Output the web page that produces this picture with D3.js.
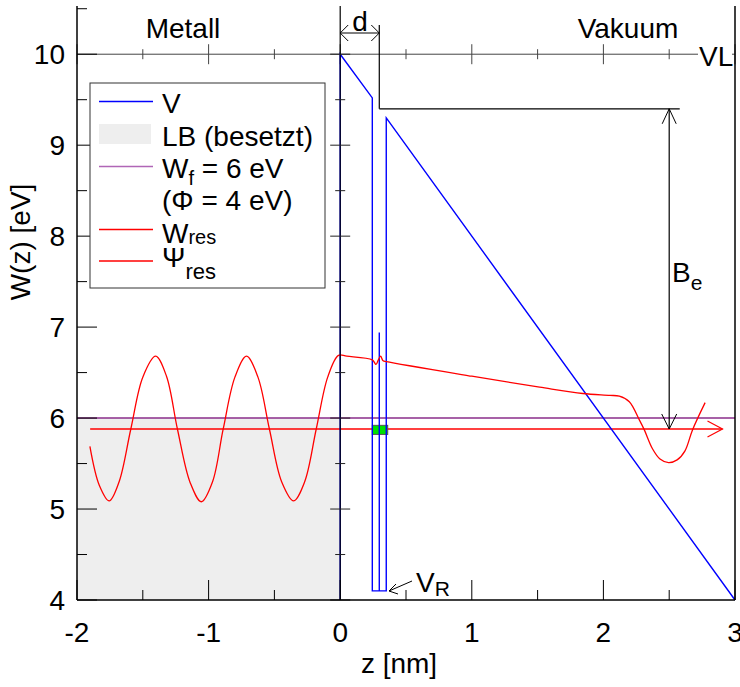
<!DOCTYPE html>
<html><head><meta charset="utf-8">
<script src="https://cdn.jsdelivr.net/npm/d3@7"></script>
<style>
html,body{margin:0;padding:0;background:#fff;}
svg{display:block;font-family:"Liberation Sans",Arial,sans-serif;}
</style></head>
<body>
<svg id="c" width="740" height="687"></svg>
<script>
// ---- data ----
const xTicks = [-2, -1, 0, 1, 2, 3];
const yTicks = [4, 5, 6, 7, 8, 9, 10];
// potential V(z)
const potZ = [0, 0, 0.244, 0.244, 0.350, 0.350, 3.0];
const potW = [4.0, 10.0, 9.52, 4.1, 4.1, 9.30, 4.0];
// middle line of well
const midZ = [0.297, 0.297];
const midW = [6.94, 4.1];
// occupied band (LB)
const lbZ = [-2, 0];
const lbW = [4, 6];
// Fermi level
const wf = 6.0;
// resonance level
const wres = 5.88;
const wresZ = [-1.90, 2.905];
// resonance wavefunction (offset)
const psiZ = [-1.902, -1.83, -1.755, -1.68, -1.591, -1.50, -1.402, -1.32, -1.237, -1.14, -1.055, -0.97, -0.889, -0.80, -0.712, -0.625, -0.538, -0.445, -0.354, -0.27, -0.182, -0.095, -0.013, 0.05, 0.244, 0.272, 0.29, 0.307, 0.326, 0.352, 1.0, 1.515, 1.843, 2.05, 2.121, 2.197, 2.273, 2.311, 2.374, 2.43, 2.495, 2.56, 2.62, 2.677, 2.773];
const psiW = [5.69, 5.26, 5.09, 5.30, 5.88, 6.45, 6.68, 6.46, 5.88, 5.29, 5.08, 5.30, 5.88, 6.45, 6.68, 6.45, 5.88, 5.30, 5.09, 5.30, 5.88, 6.45, 6.69, 6.68, 6.64, 6.59, 6.64, 6.68, 6.63, 6.62, 6.46, 6.34, 6.27, 6.25, 6.24, 6.18, 5.98, 5.87, 5.66, 5.55, 5.51, 5.54, 5.64, 5.87, 6.17];
// green resonance box
const boxZ = [0.244, 0.361];
const boxW = [5.82, 5.92];
// annotations
const vacuumLevel = 10.0;
const barrierTop = 9.4;
const dZ = [0, 0.297];

// ---- setup ----
const svg = d3.select("#c");
const x = d3.scaleLinear().domain([-2, 3]).range([77, 735]);
const y = d3.scaleLinear().domain([4, 10.53]).range([600, 6]);
const FS = 28;
const PURPLE = "#8a2d8a";

// LB fill
svg.append("rect").attr("x", x(lbZ[0])).attr("y", y(lbW[1]))
  .attr("width", x(lbZ[1]) - x(lbZ[0])).attr("height", y(lbW[0]) - y(lbW[1]))
  .attr("fill", "#eeeeee");

// VL line (W=10) with ticks
svg.append("line").attr("x1", x(-2)).attr("x2", x(3)).attr("y1", y(vacuumLevel)).attr("y2", y(vacuumLevel))
  .attr("stroke", "#444").attr("stroke-width", 1);
d3.range(-2, 3.01, 0.5).forEach(t => {
  const major = Math.abs(t - Math.round(t)) < 1e-6;
  const h = major ? 10 : 5;
  svg.append("line").attr("x1", x(t)).attr("x2", x(t))
    .attr("y1", y(vacuumLevel) - h).attr("y2", y(vacuumLevel) + h)
    .attr("stroke", "#444").attr("stroke-width", 1);
});

// Fermi level
svg.append("line").attr("x1", x(-2)).attr("x2", x(3)).attr("y1", y(wf)).attr("y2", y(wf))
  .attr("stroke", PURPLE).attr("stroke-width", 1.6);

// W_res line with arrow
svg.append("line").attr("x1", x(wresZ[0])).attr("x2", x(wresZ[1])).attr("y1", y(wres)).attr("y2", y(wres))
  .attr("stroke", "#ff0000").attr("stroke-width", 1.3);
svg.append("path")
  .attr("d", `M${x(wresZ[1]) - 15},${y(wres) - 8} L${x(wresZ[1])},${y(wres)} L${x(wresZ[1]) - 15},${y(wres) + 8}`)
  .attr("fill", "none").attr("stroke", "#ff0000").attr("stroke-width", 1.2);

// green box
svg.append("rect").attr("x", x(boxZ[0])).attr("y", y(boxW[1]))
  .attr("width", x(boxZ[1]) - x(boxZ[0])).attr("height", y(boxW[0]) - y(boxW[1]))
  .attr("fill", "#00e000").attr("stroke", "#555").attr("stroke-width", 1);

// potential
const lineGen = d3.line().x(d => x(d[0])).y(d => y(d[1]));
svg.append("path").attr("d", lineGen(potZ.map((z, i) => [z, potW[i]])))
  .attr("fill", "none").attr("stroke", "#0000ff").attr("stroke-width", 1.4);
svg.append("path").attr("d", lineGen(midZ.map((z, i) => [z, midW[i]])))
  .attr("fill", "none").attr("stroke", "#0000ff").attr("stroke-width", 1.4);

// psi
const psiGen = d3.line().x(d => x(d[0])).y(d => y(d[1])).curve(d3.curveCatmullRom.alpha(0.5));
svg.append("path").attr("d", psiGen(psiZ.map((z, i) => [z, psiW[i]])))
  .attr("fill", "none").attr("stroke", "#ff0000").attr("stroke-width", 1.3);

// zero axis at z=0
svg.append("line").attr("x1", x(0)).attr("x2", x(0)).attr("y1", 6).attr("y2", 600)
  .attr("stroke", "#000").attr("stroke-width", 1.2);
d3.range(4, 10.01, 0.5).forEach(t => {
  const major = Math.abs(t - Math.round(t)) < 1e-6;
  const h = major ? 10 : 5;
  svg.append("line").attr("x1", x(0) - h).attr("x2", x(0) + h).attr("y1", y(t)).attr("y2", y(t))
    .attr("stroke", "#222").attr("stroke-width", 1);
});

// frame: left, bottom, right
svg.append("line").attr("x1", 77).attr("x2", 77).attr("y1", 6).attr("y2", 600).attr("stroke", "#000").attr("stroke-width", 1.5);
svg.append("line").attr("x1", 735).attr("x2", 735).attr("y1", 6).attr("y2", 600).attr("stroke", "#000").attr("stroke-width", 1.5);
svg.append("line").attr("x1", 77).attr("x2", 735).attr("y1", 600).attr("y2", 600).attr("stroke", "#000").attr("stroke-width", 1.5);

// axis ticks
d3.range(4, 10.51, 0.5).forEach(t => {
  const major = Math.abs(t - Math.round(t)) < 1e-6;
  svg.append("line").attr("x1", 77).attr("x2", 77 + (major ? 20 : 10)).attr("y1", y(t)).attr("y2", y(t))
    .attr("stroke", "#000").attr("stroke-width", 1);
});
d3.range(-2, 3.01, 0.5).forEach(t => {
  const major = Math.abs(t - Math.round(t)) < 1e-6;
  svg.append("line").attr("x1", x(t)).attr("x2", x(t)).attr("y1", 600).attr("y2", 600 - (major ? 20 : 10))
    .attr("stroke", "#000").attr("stroke-width", 1);
});
svg.selectAll("text.yt").data(yTicks).enter().append("text").attr("class", "yt")
  .attr("x", 65).attr("y", d => y(d) + 10).attr("text-anchor", "end")
  .attr("font-size", FS).text(d => d);
svg.selectAll("text.xt").data(xTicks).enter().append("text").attr("class", "xt")
  .attr("x", d => x(d)).attr("y", 642).attr("text-anchor", "middle")
  .attr("font-size", FS).text(d => d);

// axis titles
svg.append("text").attr("transform", "translate(30,242) rotate(-90)").attr("text-anchor", "middle")
  .attr("font-size", FS).text("W(z) [eV]");
svg.append("text").attr("x", 399).attr("y", 673).attr("text-anchor", "middle")
  .attr("font-size", FS).text("z [nm]");

// region labels
svg.append("text").attr("x", 183).attr("y", 38).attr("text-anchor", "middle").attr("font-size", FS).text("Metall");
svg.append("text").attr("x", 628).attr("y", 38).attr("text-anchor", "middle").attr("font-size", FS).text("Vakuum");

// VL label with white background
svg.append("rect").attr("x", 698).attr("y", 40).attr("width", 34).attr("height", 28).attr("fill", "#fff");
svg.append("text").attr("x", 699).attr("y", 66).attr("font-size", FS).text("VL");

// d marker
const dy = 33;
svg.append("line").attr("x1", x(dZ[0])).attr("x2", x(dZ[1])).attr("y1", dy).attr("y2", dy).attr("stroke", "#000").attr("stroke-width", 1);
svg.append("path").attr("d", `M${x(dZ[0]) + 8},${dy - 8} L${x(dZ[0])},${dy} L${x(dZ[0]) + 8},${dy + 8}`)
  .attr("fill", "none").attr("stroke", "#000").attr("stroke-width", 1);
svg.append("path").attr("d", `M${x(dZ[1]) - 8},${dy - 8} L${x(dZ[1])},${dy} L${x(dZ[1]) - 8},${dy + 8}`)
  .attr("fill", "none").attr("stroke", "#000").attr("stroke-width", 1);
svg.append("text").attr("x", 360).attr("y", 31).attr("text-anchor", "middle").attr("font-size", FS).text("d");
svg.append("line").attr("x1", x(dZ[1])).attr("x2", x(dZ[1])).attr("y1", 25).attr("y2", y(barrierTop))
  .attr("stroke", "#000").attr("stroke-width", 1.2);
svg.append("line").attr("x1", x(dZ[1])).attr("x2", x(2.58)).attr("y1", y(barrierTop)).attr("y2", y(barrierTop))
  .attr("stroke", "#000").attr("stroke-width", 1.2);

// B_e arrow
const bx = x(2.5);
svg.append("line").attr("x1", bx).attr("x2", bx).attr("y1", y(barrierTop)).attr("y2", y(wres)).attr("stroke", "#000").attr("stroke-width", 1.2);
svg.append("path").attr("d", `M${bx - 7},${y(barrierTop) + 15} L${bx},${y(barrierTop)} L${bx + 7},${y(barrierTop) + 15}`)
  .attr("fill", "none").attr("stroke", "#000").attr("stroke-width", 1);
svg.append("path").attr("d", `M${bx - 7.5},${y(wres) - 15} L${bx},${y(wres)} L${bx + 7.5},${y(wres) - 15}`)
  .attr("fill", "none").attr("stroke", "#000").attr("stroke-width", 1);
const be = svg.append("text").attr("x", 672).attr("y", 282).attr("font-size", FS);
be.append("tspan").text("B");
be.append("tspan").attr("dy", 8).attr("font-size", 21).text("e");

// V_R label with arrow
svg.append("line").attr("x1", 412).attr("x2", 389).attr("y1", 581).attr("y2", 591).attr("stroke", "#000").attr("stroke-width", 1);
svg.append("path").attr("d", `M396,584 L389,591 L398,594`).attr("fill", "none").attr("stroke", "#000").attr("stroke-width", 1);
const vr = svg.append("text").attr("x", 416).attr("y", 592).attr("font-size", FS);
vr.append("tspan").text("V");
vr.append("tspan").attr("dy", 4).attr("font-size", 21).text("R");

// legend
const lg = svg.append("g");
lg.append("rect").attr("x", 90).attr("y", 83).attr("width", 235).attr("height", 205)
  .attr("fill", "#fff").attr("stroke", "#333").attr("stroke-width", 1);
lg.append("line").attr("x1", 99).attr("x2", 153).attr("y1", 101.5).attr("y2", 101.5).attr("stroke", "#0000ff").attr("stroke-width", 1.3);
lg.append("text").attr("x", 162).attr("y", 113).attr("font-size", FS).text("V");
lg.append("rect").attr("x", 99).attr("y", 124).attr("width", 52).attr("height", 20).attr("fill", "#eeeeee");
lg.append("text").attr("x", 162).attr("y", 146).attr("font-size", FS).text("LB (besetzt)");
lg.append("line").attr("x1", 99).attr("x2", 153).attr("y1", 166.5).attr("y2", 166.5).attr("stroke", "#b066b6").attr("stroke-width", 1.3);
const wft = lg.append("text").attr("x", 162).attr("y", 178).attr("font-size", FS);
wft.append("tspan").text("W");
wft.append("tspan").attr("dy", 7).attr("font-size", 20).text("f");
wft.append("tspan").attr("dy", -7).text(" = 6 eV");
lg.append("text").attr("x", 162).attr("y", 210).attr("font-size", FS).text("(Φ = 4 eV)");
lg.append("line").attr("x1", 99).attr("x2", 153).attr("y1", 229.5).attr("y2", 229.5).attr("stroke", "#ff0000").attr("stroke-width", 1.3);
const wrt = lg.append("text").attr("x", 162).attr("y", 243).attr("font-size", FS);
wrt.append("tspan").text("W");
wrt.append("tspan").attr("dy", 1).attr("font-size", 20).text("res");
lg.append("line").attr("x1", 99).attr("x2", 153).attr("y1", 261).attr("y2", 261).attr("stroke", "#ff0000").attr("stroke-width", 1.3);
const pst = lg.append("text").attr("x", 162).attr("y", 267).attr("font-size", FS);
pst.append("tspan").text("Ψ");
pst.append("tspan").attr("dy", 12).attr("font-size", 22).text("res");
</script>
</body></html>
